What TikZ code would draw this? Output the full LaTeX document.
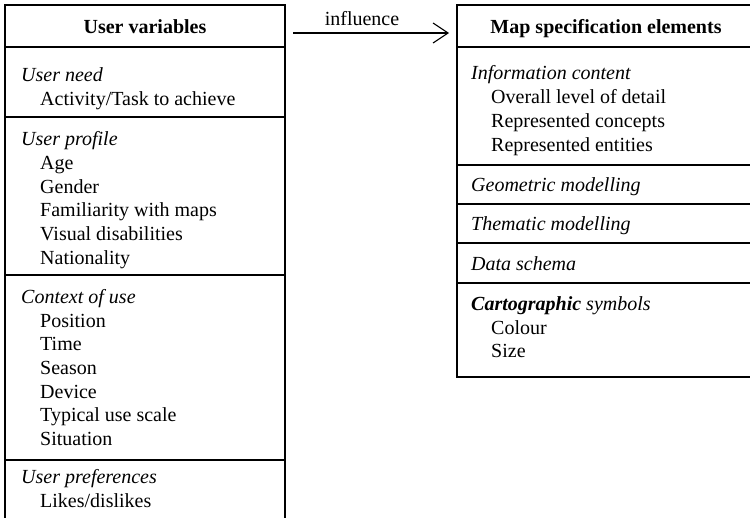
\documentclass[tikz,border=0pt]{standalone}
\usepackage{fontspec}
\setmainfont{Liberation Serif}
\usetikzlibrary{arrows.meta}
\tikzset{
  txt/.style={anchor=base west, inner sep=0pt, font=\fontsize{20}{24}\selectfont},
  ital/.style={txt, font=\fontsize{20}{24}\selectfont\itshape},
  head/.style={anchor=base, inner sep=0pt, font=\fontsize{20}{24}\selectfont\bfseries},
  frame/.style={line width=1.6pt},
  arr/.style={line width=1.1pt, -{Straight Barb[length=15pt,width=20pt,line width=1.1pt]}}
}
\begin{document}
\begin{tikzpicture}[x=1pt,y=-1pt]
\useasboundingbox (0,0) rectangle (750,517);
% left box
\draw[frame] (5,530) -- (5,5) -- (285,5) -- (285,530);
\draw[frame] (5,47) -- (285,47);
\draw[frame] (5,117) -- (285,117);
\draw[frame] (5,275) -- (285,275);
\draw[frame] (5,460) -- (285,460);
\node[head] (uvh) at (145,33) {User variables};
\node[ital] (un) at (21,81) {User need};
\node[txt] (un1) at (40,105) {Activity/Task to achieve};
\node[ital] (up) at (21,145) {User profile};
\node[txt] (up1) at (40,169) {Age};
\node[txt] (up2) at (40,193) {Gender};
\node[txt] (up3) at (40,216) {Familiarity with maps};
\node[txt] (up4) at (40,240) {Visual disabilities};
\node[txt] (up5) at (40,264) {Nationality};
\node[ital] (cu) at (21,303) {Context of use};
\node[txt] (cu1) at (40,327) {Position};
\node[txt] (cu2) at (40,350) {Time};
\node[txt] (cu3) at (40,374) {Season};
\node[txt] (cu4) at (40,398) {Device};
\node[txt] (cu5) at (40,421) {Typical use scale};
\node[txt] (cu6) at (40,445) {Situation};
\node[ital] (pr) at (21,483) {User preferences};
\node[txt] (pr1) at (40,507) {Likes/dislikes};
% right box
\draw[frame] (760,5) -- (457,5) -- (457,377) -- (760,377);
\draw[frame] (457,47) -- (760,47);
\draw[frame] (457,165) -- (760,165);
\draw[frame] (457,204) -- (760,204);
\draw[frame] (457,243) -- (760,243);
\draw[frame] (457,283) -- (760,283);
\node[head] (mh) at (606,33) {Map specification elements};
\node[ital] (ic) at (471,79) {Information content};
\node[txt] (ic1) at (491,103) {Overall level of detail};
\node[txt] (ic2) at (491,127) {Represented concepts};
\node[txt] (ic3) at (491,151) {Represented entities};
\node[ital] (gm) at (471,191) {Geometric modelling};
\node[ital] (tm) at (471,230) {Thematic modelling};
\node[ital] (ds) at (471,270) {Data schema};
\node[ital] (cs) at (471,310) {\textbf{Cartographic} symbols};
\node[txt] (cs1) at (491,334) {Colour};
\node[txt] (cs2) at (491,357) {Size};
% arrow
\coordinate (arrS) at (293,33);
\coordinate (arrE) at (449,33);
\draw[arr] (arrS) -- (arrE);
\node[anchor=base, inner sep=0pt, font=\fontsize{20}{24}\selectfont] (infl) at (362,25) {influence};
\end{tikzpicture}
\end{document}
